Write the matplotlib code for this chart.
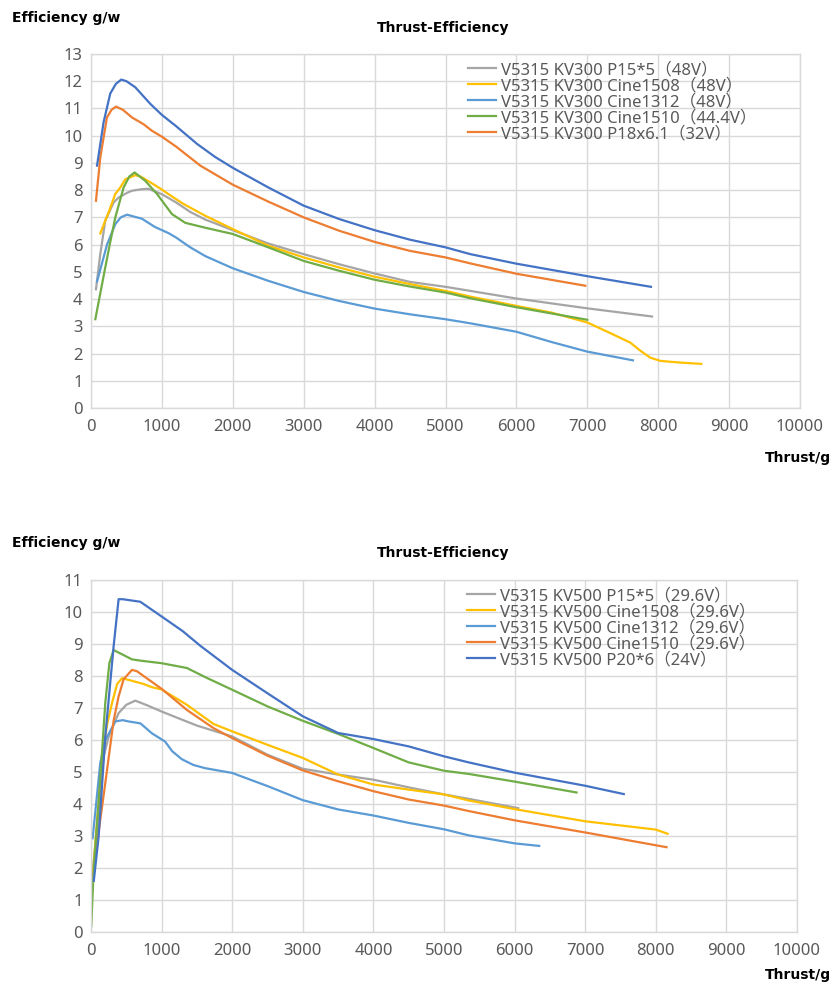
import matplotlib
matplotlib.use("Agg")
import matplotlib.pyplot as plt

plt.rcParams['font.family'] = ['Noto Sans', 'Noto Sans CJK SC', 'DejaVu Sans']

# ---- KV300 chart data (thrust g, efficiency g/w) ----
gray300_x = [70, 131, 201, 320, 390, 508, 580, 700, 810, 1000, 1200, 1400, 1611, 2000, 2500, 3000, 3500, 4000, 4500, 5000, 5350, 6000, 7000, 7913]
gray300_y = [4.36, 5.65, 6.88, 7.55, 7.73, 7.9, 7.98, 8.03, 8.05, 7.85, 7.55, 7.2, 6.92, 6.53, 6.04, 5.65, 5.28, 4.94, 4.63, 4.45, 4.3, 4.02, 3.66, 3.36]

yel300_x = [131, 250, 343, 414, 484, 625, 700, 860, 1000, 1095, 1300, 1611, 2000, 2500, 3000, 3500, 4000, 4500, 5000, 5350, 6000, 6500, 7000, 7300, 7607, 7750, 7888, 8030, 8300, 8608]
yel300_y = [6.41, 7.2, 7.86, 8.1, 8.4, 8.55, 8.5, 8.25, 8.02, 7.85, 7.5, 7.06, 6.57, 5.96, 5.53, 5.16, 4.82, 4.55, 4.3, 4.09, 3.75, 3.5, 3.14, 2.78, 2.4, 2.1, 1.85, 1.73, 1.67, 1.62]

lb300_x = [85, 226, 343, 420, 507, 719, 900, 1095, 1200, 1400, 1611, 2000, 2500, 3000, 3500, 4000, 4500, 5000, 5350, 6000, 6500, 7000, 7644]
lb300_y = [4.64, 6.0, 6.75, 7.0, 7.1, 6.95, 6.65, 6.42, 6.26, 5.9, 5.58, 5.13, 4.67, 4.26, 3.93, 3.65, 3.44, 3.26, 3.11, 2.8, 2.42, 2.07, 1.75]

grn300_x = [61, 201, 272, 343, 460, 540, 615, 766, 931, 1142, 1330, 1611, 2000, 2500, 3000, 3500, 4000, 4500, 5000, 5350, 6000, 7000]
grn300_y = [3.26, 5.16, 6.1, 7.0, 8.1, 8.5, 8.65, 8.34, 7.86, 7.12, 6.8, 6.62, 6.39, 5.9, 5.4, 5.04, 4.71, 4.46, 4.24, 4.03, 3.7, 3.24]

org300_x = [70, 131, 225, 290, 352, 450, 578, 742, 860, 1001, 1200, 1542, 2000, 2500, 3000, 3500, 4000, 4500, 5000, 5350, 6000, 6972]
org300_y = [7.61, 9.2, 10.67, 10.95, 11.07, 10.95, 10.67, 10.42, 10.18, 9.96, 9.6, 8.9, 8.2, 7.58, 7.0, 6.51, 6.1, 5.77, 5.53, 5.31, 4.93, 4.49]

dkb300_x = [85, 178, 272, 350, 427, 500, 624, 836, 1001, 1200, 1495, 1750, 2000, 2500, 3000, 3500, 4000, 4500, 5000, 5350, 6000, 7000, 7898]
dkb300_y = [8.9, 10.5, 11.55, 11.9, 12.06, 12.0, 11.78, 11.17, 10.76, 10.35, 9.7, 9.22, 8.82, 8.1, 7.43, 6.94, 6.53, 6.18, 5.9, 5.65, 5.3, 4.84, 4.45]

labels300 = ['V5315 KV300 P15*5（48V）',
             'V5315 KV300 Cine1508（48V）',
             'V5315 KV300 Cine1312（48V）',
             'V5315 KV300 Cine1510（44.4V）',
             'V5315 KV300 P18x6.1（32V）']

# ---- KV500 chart data ----
gray500_x = [30, 100, 179, 249, 391, 500, 627, 800, 1000, 1500, 2000, 2500, 3000, 3500, 4000, 4500, 5000, 5350, 6052]
gray500_y = [2.0, 3.6, 5.48, 6.1, 6.84, 7.1, 7.23, 7.08, 6.89, 6.45, 6.11, 5.54, 5.1, 4.92, 4.76, 4.52, 4.3, 4.16, 3.87]

yel500_x = [14, 80, 155, 230, 297, 370, 439, 580, 745, 862, 1000, 1358, 1736, 2000, 2500, 3000, 3500, 4000, 4500, 5000, 5350, 6000, 7000, 8000, 8168]
yel500_y = [1.42, 3.3, 5.48, 6.5, 7.15, 7.75, 7.93, 7.85, 7.75, 7.65, 7.58, 7.1, 6.5, 6.27, 5.85, 5.44, 4.92, 4.61, 4.45, 4.3, 4.11, 3.84, 3.46, 3.2, 3.07]

lb500_x = [23, 131, 202, 344, 450, 532, 700, 862, 1050, 1150, 1286, 1450, 1616, 2000, 2500, 3000, 3500, 4000, 4500, 5000, 5350, 6000, 6349]
lb500_y = [2.93, 5.28, 5.99, 6.58, 6.62, 6.58, 6.52, 6.21, 5.95, 5.65, 5.4, 5.22, 5.12, 4.97, 4.56, 4.12, 3.83, 3.64, 3.41, 3.21, 3.02, 2.77, 2.69]

org500_x = [4, 100, 202, 320, 391, 462, 580, 650, 745, 1000, 1358, 1736, 2000, 2500, 3000, 3500, 4000, 4500, 5000, 5350, 6000, 7000, 8152]
org500_y = [1.27, 3.0, 4.65, 6.6, 7.36, 7.9, 8.19, 8.15, 8.0, 7.6, 6.94, 6.37, 6.06, 5.51, 5.05, 4.71, 4.4, 4.14, 3.95, 3.78, 3.49, 3.11, 2.65]

grn500_x = [4, 38, 108, 202, 260, 320, 420, 580, 700, 1000, 1358, 1641, 2000, 2500, 3000, 3500, 4000, 4500, 5000, 5350, 6000, 6878]
grn500_y = [0.18, 1.97, 4.03, 7.15, 8.4, 8.81, 8.7, 8.52, 8.48, 8.4, 8.25, 7.94, 7.57, 7.05, 6.6, 6.19, 5.75, 5.3, 5.04, 4.94, 4.7, 4.36]

dkb500_x = [40, 108, 202, 320, 391, 450, 698, 1000, 1300, 1545, 2000, 2500, 3000, 3500, 4000, 4500, 5000, 5350, 6000, 7000, 7547]
dkb500_y = [1.6, 2.98, 6.1, 8.92, 10.4, 10.4, 10.32, 9.86, 9.4, 8.95, 8.19, 7.46, 6.74, 6.22, 6.03, 5.8, 5.49, 5.3, 4.98, 4.57, 4.31]

labels500 = ['V5315 KV500 P15*5（29.6V）',
             'V5315 KV500 Cine1508（29.6V）',
             'V5315 KV500 Cine1312（29.6V）',
             'V5315 KV500 Cine1510（29.6V）',
             'V5315 KV500 P20*6（24V）']

GRAY, YEL, LBLUE, GRN, ORG, DBLUE = '#A5A5A5', '#FFC000', '#5B9BD5', '#70AD47', '#ED7D31', '#4472C4'
W, H = 840, 1000


def style_axes(ax, ymax):
    ax.set_xlim(0, 10000)
    ax.set_ylim(0, ymax)
    ax.set_xticks(range(0, 10001, 1000))
    ax.set_yticks(range(0, ymax + 1))
    ax.grid(True, color='#D9D9D9', linewidth=1.0)
    ax.set_axisbelow(True)
    for s in ax.spines.values():
        s.set_color('#D9D9D9')
        s.set_linewidth(1.0)
    ax.tick_params(length=0, labelsize=12, colors='#595959')
    ax.tick_params(axis='x', pad=8)
    ax.tick_params(axis='y', pad=6)


def add_legend(ax, ax_left, ax_w, ax_top, ax_h, lx, ly):
    ax.legend(loc='upper left', bbox_to_anchor=((lx - ax_left) / ax_w, 1 - (ly - ax_top) / ax_h),
              frameon=False, fontsize=12, labelspacing=0.0, handlelength=1.7,
              handletextpad=0.3, borderpad=0, borderaxespad=0, labelcolor='#595959')


fig = plt.figure(figsize=(8.4, 10), dpi=100)
lw = 1.6

# top chart
ax1 = fig.add_axes([91 / W, 1 - 408 / H, 709 / W, 354 / H])
style_axes(ax1, 13)
ax1.plot(gray300_x, gray300_y, color=GRAY, lw=lw, label=labels300[0])
ax1.plot(yel300_x, yel300_y, color=YEL, lw=lw, label=labels300[1])
ax1.plot(lb300_x, lb300_y, color=LBLUE, lw=lw, label=labels300[2])
ax1.plot(grn300_x, grn300_y, color=GRN, lw=lw, label=labels300[3])
ax1.plot(org300_x, org300_y, color=ORG, lw=lw, label=labels300[4])
ax1.plot(dkb300_x, dkb300_y, color=DBLUE, lw=lw)
add_legend(ax1, 91, 709, 54, 354, 468, 62)

# bottom chart
ax2 = fig.add_axes([91 / W, 1 - 932 / H, 706 / W, 352 / H])
style_axes(ax2, 11)
ax2.plot(gray500_x, gray500_y, color=GRAY, lw=lw, label=labels500[0])
ax2.plot(yel500_x, yel500_y, color=YEL, lw=lw, label=labels500[1])
ax2.plot(lb500_x, lb500_y, color=LBLUE, lw=lw, label=labels500[2])
ax2.plot(org500_x, org500_y, color=ORG, lw=lw, label=labels500[3])
ax2.plot(grn500_x, grn500_y, color=GRN, lw=lw)
ax2.plot(dkb500_x, dkb500_y, color=DBLUE, lw=lw, label=labels500[4])
add_legend(ax2, 91, 706, 580, 352, 467, 588)

# figure texts
bold = dict(fontsize=10, fontweight='bold', family='DejaVu Sans', va='center')
for ylab, ytitle, yx in [(18, 28, 458), (543, 553, 975)]:
    fig.text(12 / W, 1 - ylab / H, 'Efficiency g/w', ha='left', **bold)
    fig.text(443 / W, 1 - ytitle / H, 'Thrust-Efficiency', ha='center', **bold)
    fig.text(831 / W, 1 - yx / H, 'Thrust/g', ha='right', **bold)

fig.savefig('out.png', dpi=100)
